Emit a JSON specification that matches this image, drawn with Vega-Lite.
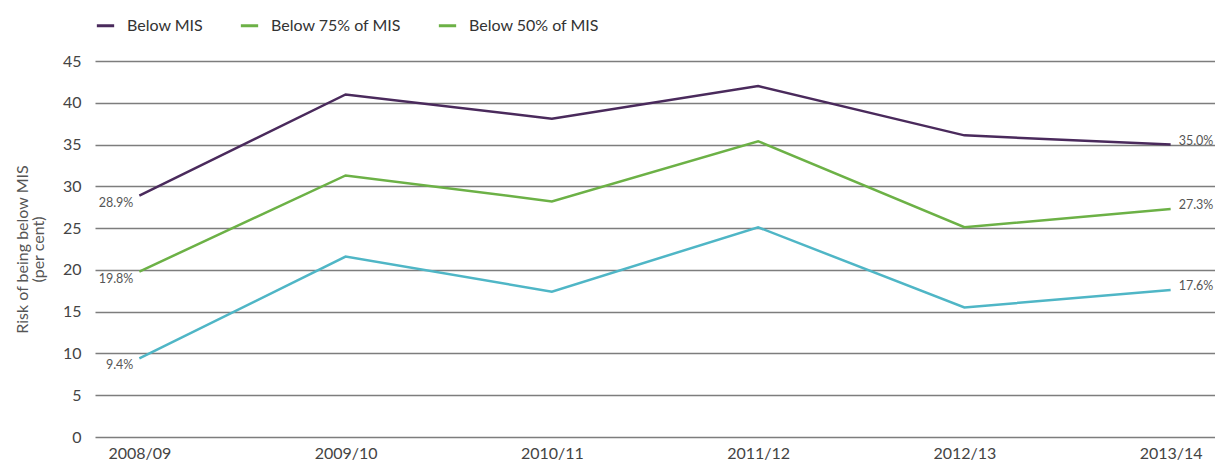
{
  "$schema": "https://vega.github.io/schema/vega-lite/v6.json",
  "width": 1120,
  "height": 376,
  "autosize": {"type": "none"},
  "padding": {"left": 95, "top": 61, "right": 0, "bottom": 27},
  "config": {
    "view": {"stroke": null},
    "font": "Lato",
    "axis": {"labelFont": "Lato", "titleFont": "Lato"},
    "legend": {"labelFont": "Lato"}
  },
  "data": {
    "values": [
      {"year": "2008/09", "series": "Below MIS", "value": 28.9},
      {"year": "2009/10", "series": "Below MIS", "value": 41.0},
      {"year": "2010/11", "series": "Below MIS", "value": 38.1},
      {"year": "2011/12", "series": "Below MIS", "value": 42.0},
      {"year": "2012/13", "series": "Below MIS", "value": 36.1},
      {"year": "2013/14", "series": "Below MIS", "value": 35.0},
      {"year": "2008/09", "series": "Below 75% of MIS", "value": 19.8},
      {"year": "2009/10", "series": "Below 75% of MIS", "value": 31.3},
      {"year": "2010/11", "series": "Below 75% of MIS", "value": 28.2},
      {"year": "2011/12", "series": "Below 75% of MIS", "value": 35.4},
      {"year": "2012/13", "series": "Below 75% of MIS", "value": 25.1},
      {"year": "2013/14", "series": "Below 75% of MIS", "value": 27.3},
      {"year": "2008/09", "series": "Below 50% of MIS", "value": 9.4},
      {"year": "2009/10", "series": "Below 50% of MIS", "value": 21.6},
      {"year": "2010/11", "series": "Below 50% of MIS", "value": 17.4},
      {"year": "2011/12", "series": "Below 50% of MIS", "value": 25.1},
      {"year": "2012/13", "series": "Below 50% of MIS", "value": 15.5},
      {"year": "2013/14", "series": "Below 50% of MIS", "value": 17.6}
    ]
  },
  "encoding": {
    "x": {
      "field": "year", "type": "ordinal",
      "scale": {"type": "point", "padding": 0.215},
      "axis": {"title": null, "domain": false, "ticks": false, "labelAngle": 0, "labelFontSize": 16, "labelColor": "#444", "labelPadding": 8}
    },
    "y": {
      "field": "value", "type": "quantitative",
      "scale": {"domain": [0, 45]},
      "axis": {
        "title": ["Risk of being below MIS", "(per cent)"],
        "titleFontSize": 16, "titleFontWeight": "normal", "titleColor": "#555", "titlePadding": 16, "titleLineHeight": 16,
        "values": [0, 5, 10, 15, 20, 25, 30, 35, 40, 45],
        "domain": false, "ticks": false, "grid": true, "gridColor": "#7d7d7d", "gridWidth": 1.5,
        "labelFontSize": 16, "labelColor": "#444", "labelPadding": 14
      }
    }
  },
  "layer": [
    {
      "mark": {"type": "line", "opacity": 0, "strokeWidth": 2.5},
      "encoding": {
        "color": {
          "field": "series", "type": "nominal",
          "scale": {"domain": ["Below MIS", "Below 75% of MIS", "Below 50% of MIS"], "range": ["#4a2a5c", "#6cb146", "#6cb146"]},
          "legend": {
            "title": null, "orient": "top", "direction": "horizontal", "offset": 27,
            "symbolType": "stroke", "symbolStrokeWidth": 3, "symbolSize": 300, "symbolOpacity": 1,
            "labelFontSize": 16, "labelColor": "#333", "columnPadding": 30, "labelOffset": 11
          }
        }
      }
    },
    {
      "mark": {"type": "line", "strokeWidth": 2.5},
      "encoding": {
        "color": {
          "field": "series", "type": "nominal",
          "scale": {"domain": ["Below MIS", "Below 75% of MIS", "Below 50% of MIS"], "range": ["#4a2a5c", "#6cb146", "#4fb6c6"]},
          "legend": null
        }
      }
    },
    {
      "transform": [{"filter": "datum.year == '2008/09'"}, {"calculate": "format(datum.value, '.1f') + '%'", "as": "lbl"}],
      "mark": {"type": "text", "align": "right", "baseline": "middle", "dx": -6, "dy": 7, "fontSize": 12.5, "color": "#555"},
      "encoding": {"text": {"field": "lbl", "type": "nominal"}}
    },
    {
      "transform": [{"filter": "datum.year == '2013/14'"}, {"calculate": "format(datum.value, '.1f') + '%'", "as": "lbl"}],
      "mark": {"type": "text", "align": "left", "baseline": "middle", "dx": 8, "dy": -4, "fontSize": 12.5, "color": "#555"},
      "encoding": {"text": {"field": "lbl", "type": "nominal"}}
    }
  ],
  "resolve": {"scale": {"color": "independent"}}
}
